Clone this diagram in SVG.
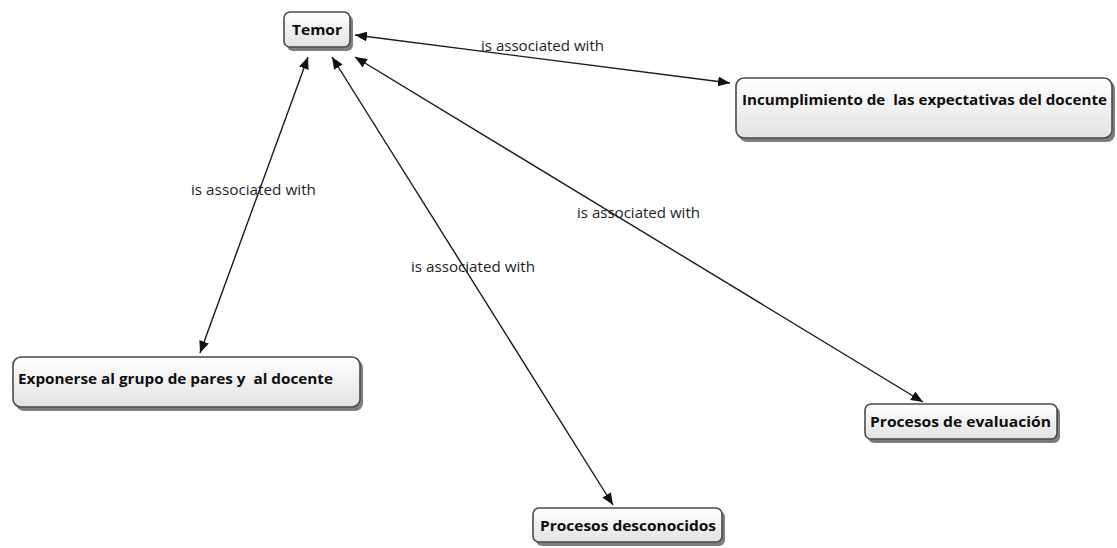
<svg xmlns="http://www.w3.org/2000/svg" width="1117" height="548" viewBox="0 0 1117 548">
  <style>
    .box { fill: url(#nodeFill); stroke: #4a4a4a; stroke-width: 1.6; }
    .shadow { fill: #5e5e5e; opacity: 0.8; }
    .node-text { font-family: "Open Sans", "Liberation Sans", sans-serif; font-weight: bold; font-size: 15px; fill: #0d0d0d; }
    .link { stroke: #1a1a1a; stroke-width: 1.4; fill: none; marker-start: url(#arrow); marker-end: url(#arrow); }
    .link-text { font-family: "Open Sans", "Liberation Sans", sans-serif; font-size: 14.5px; fill: #1e1e1e; }
  </style>
  <defs>
    <linearGradient id="nodeFill" x1="0" y1="0" x2="0" y2="1">
      <stop offset="0" stop-color="#ffffff"/>
      <stop offset="1" stop-color="#e2e2e2"/>
    </linearGradient>
    <marker id="arrow" viewBox="0 0 12 10" refX="12" refY="5" markerWidth="12" markerHeight="10" markerUnits="userSpaceOnUse" orient="auto-start-reverse">
      <path d="M0,0 L12,5 L0,10 z" fill="#111"/>
    </marker>
  </defs>

  <rect width="1117" height="548" fill="#ffffff"/>

  <!-- connectors with their link phrases -->
  <g id="connectors">
    <line class="link" x1="355" y1="35" x2="730" y2="83"/>
    <line class="link" x1="308" y1="57" x2="200" y2="353"/>
    <line class="link" x1="332" y1="57" x2="613" y2="505"/>
    <line class="link" x1="355" y1="57" x2="923" y2="402"/>
    <text class="link-text" x="481" y="51" textLength="123" lengthAdjust="spacingAndGlyphs">is associated with</text>
    <text class="link-text" x="191" y="195" textLength="125" lengthAdjust="spacingAndGlyphs">is associated with</text>
    <text class="link-text" x="411" y="272" textLength="124" lengthAdjust="spacingAndGlyphs">is associated with</text>
    <text class="link-text" x="577" y="218" textLength="123" lengthAdjust="spacingAndGlyphs">is associated with</text>
  </g>

  <!-- concept nodes -->
  <g id="node-temor">
    <rect class="shadow" x="287" y="15" width="66" height="36" rx="6"/>
    <rect class="box" x="284" y="12" width="66" height="35" rx="6"/>
    <text class="node-text" x="292" y="35" textLength="50" lengthAdjust="spacingAndGlyphs">Temor</text>
  </g>

  <g id="node-incumplimiento">
    <rect class="shadow" x="739" y="81" width="376" height="61" rx="8"/>
    <rect class="box" x="736" y="78" width="376" height="60" rx="8"/>
    <text class="node-text" x="742" y="105" textLength="365" lengthAdjust="spacingAndGlyphs" xml:space="preserve">Incumplimiento de  las expectativas del docente</text>
  </g>

  <g id="node-exponerse">
    <rect class="shadow" x="16" y="360" width="347" height="51" rx="8"/>
    <rect class="box" x="13" y="357" width="347" height="50" rx="8"/>
    <text class="node-text" x="18" y="384" textLength="315" lengthAdjust="spacingAndGlyphs" xml:space="preserve">Exponerse al grupo de pares y  al docente</text>
  </g>

  <g id="node-evaluacion">
    <rect class="shadow" x="868" y="407" width="192" height="36" rx="6"/>
    <rect class="box" x="865" y="404" width="192" height="35" rx="6"/>
    <text class="node-text" x="870" y="427" textLength="181" lengthAdjust="spacingAndGlyphs">Procesos de evaluación</text>
  </g>

  <g id="node-desconocidos">
    <rect class="shadow" x="536" y="511" width="189" height="35" rx="6"/>
    <rect class="box" x="533" y="508" width="189" height="34" rx="6"/>
    <text class="node-text" x="540" y="531" textLength="176" lengthAdjust="spacingAndGlyphs">Procesos desconocidos</text>
  </g>
</svg>
